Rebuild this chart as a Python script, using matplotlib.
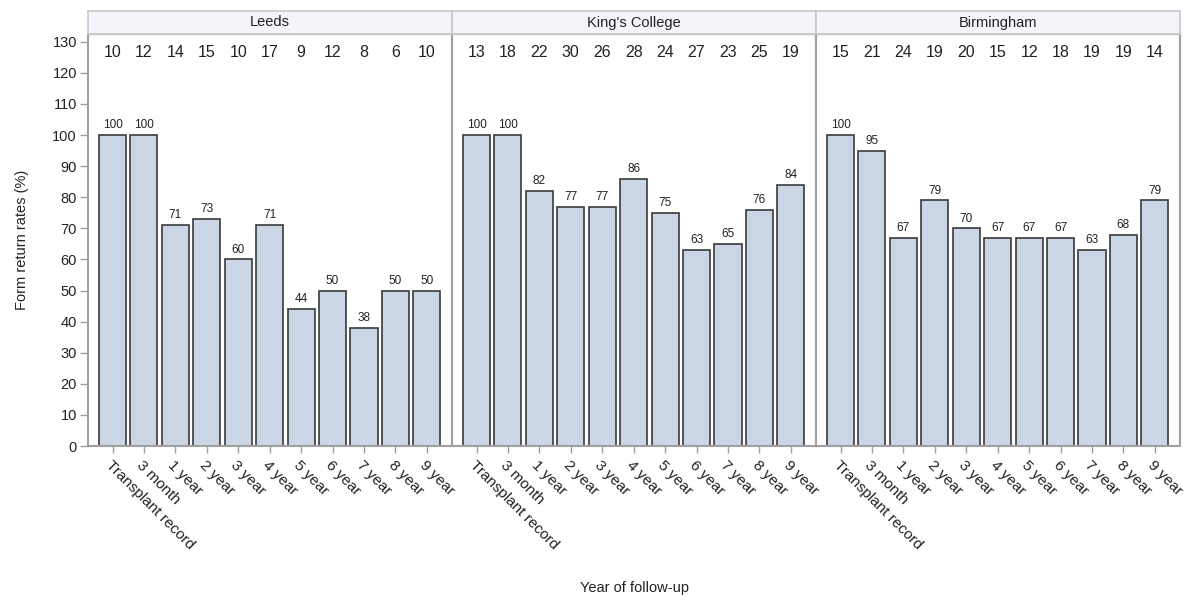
import matplotlib
matplotlib.use("Agg")
import matplotlib.pyplot as plt
import numpy as np

plt.rcParams['font.family'] = ['Liberation Sans', 'DejaVu Sans']

categories = ["Transplant record", "3 month", "1 year", "2 year", "3 year", "4 year",
              "5 year", "6 year", "7 year", "8 year", "9 year"]
centres = ["Leeds", "King's College", "Birmingham"]
rates_leeds = [100, 100, 71, 73, 60, 71, 44, 50, 38, 50, 50]
rates_kings = [100, 100, 82, 77, 77, 86, 75, 63, 65, 76, 84]
rates_birm = [100, 95, 67, 79, 70, 67, 67, 67, 63, 68, 79]
n_leeds = [10, 12, 14, 15, 10, 17, 9, 12, 8, 6, 10]
n_kings = [13, 18, 22, 30, 26, 28, 24, 27, 23, 25, 19]
n_birm = [15, 21, 24, 19, 20, 15, 12, 18, 19, 19, 14]
yticks = list(range(0, 131, 10))

rates = [rates_leeds, rates_kings, rates_birm]
counts = [n_leeds, n_kings, n_birm]

W, H = 1192, 601
fig = plt.figure(figsize=(W / 100, H / 100), dpi=100)

face = '#cad5e5'
edge = '#3a3a3a'
border = '#a0a0a0'
textc = '#222222'

left0 = 88
pw = 364
ax_top = 34
ax_bot = 446
hd_top = 11

x = np.arange(len(categories))
for i, name in enumerate(centres):
    l = left0 + pw * i
    ax = fig.add_axes([l / W, (H - ax_bot) / H, pw / W, (ax_bot - ax_top) / H])
    ax.bar(x, rates[i], width=0.86, color=face, edgecolor=edge, linewidth=1.2, zorder=2)
    for xi, v in zip(x, rates[i]):
        ax.text(xi, v + 1.2, str(v), ha='center', va='bottom', fontsize=8.5, color=textc)
    for xi, n in zip(x, counts[i]):
        ax.text(xi, 126.5, str(n), ha='center', va='center', fontsize=11.5, color=textc)
    ax.set_xlim(-0.78, len(categories) - 1 + 0.8)
    ax.set_ylim(0, 132.5)
    ax.set_xticks(x)
    ax.set_xticklabels(categories, rotation=-45, ha='left', va='top',
                       rotation_mode='anchor', fontsize=11, color=textc)
    ax.tick_params(axis='x', length=5, color=border, width=1, pad=4)
    ax.set_yticks(yticks)
    if i == 0:
        ax.tick_params(axis='y', length=6, color=border, width=1, labelsize=10.5,
                       labelcolor=textc, pad=2)
        ax.set_ylabel("Form return rates (%)", fontsize=10.5, color=textc, labelpad=17)
    else:
        ax.tick_params(axis='y', left=False, labelleft=False)
    for s in ax.spines.values():
        s.set_color(border)
        s.set_linewidth(1.5)

    hax = fig.add_axes([l / W, (H - ax_top) / H, pw / W, (ax_top - hd_top) / H])
    hax.set_facecolor('#f3f5fb')
    hax.set_xticks([])
    hax.set_yticks([])
    for s in hax.spines.values():
        s.set_color('#c8c8c8')
        s.set_linewidth(1.2)
    hax.text(0.5, 0.5, name, ha='center', va='center', fontsize=10.5, color=textc,
             transform=hax.transAxes)

fig.text((left0 + 1.5 * pw) / W, 1 - 588 / H, "Year of follow-up", ha='center',
         va='center', fontsize=10.5, color=textc)

fig.savefig("out.png", dpi=100)
